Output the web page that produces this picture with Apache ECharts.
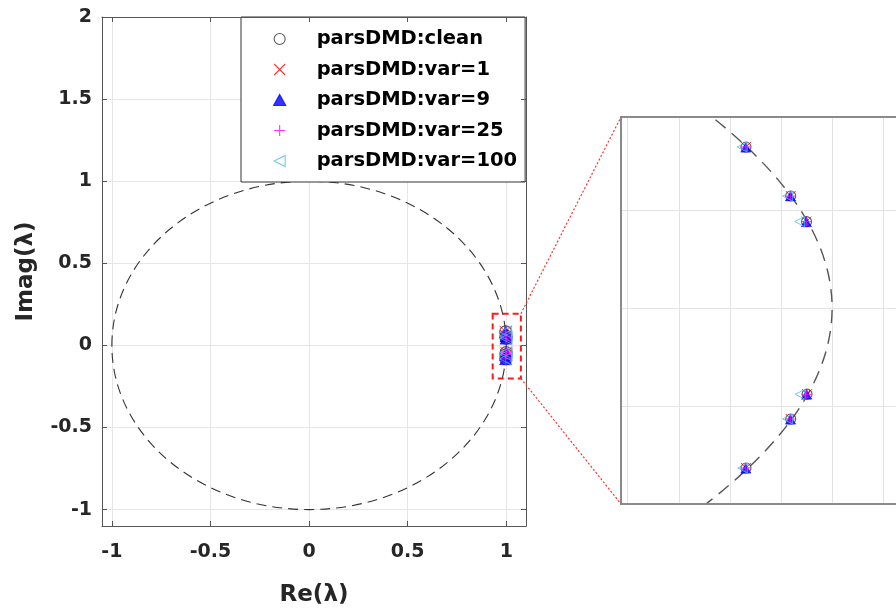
<!DOCTYPE html>
<html>
<head>
<meta charset="utf-8">
<script src="https://cdn.jsdelivr.net/npm/echarts@6/dist/echarts.min.js"></script>
<style>html,body{margin:0;padding:0;background:#fff;}#c{width:896px;height:609px;}</style>
</head>
<body>
<div id="c"></div>
<script>
// ---- data ----
const seriesNames = ['parsDMD:clean', 'parsDMD:var=1', 'parsDMD:var=9', 'parsDMD:var=25', 'parsDMD:var=100'];
const eigClean  = [[0.99663, 0.0823], [0.99838, 0.0573], [0.99900, 0.0442], [0.99902, -0.0439], [0.99838, -0.0566], [0.99663, -0.0816]];
const eigVar1   = [[0.99663, 0.0823], [0.99838, 0.0573], [0.99900, 0.0442], [0.99902, -0.0439], [0.99838, -0.0566], [0.99663, -0.0816]];
const eigVar9   = [[0.99662, 0.0822], [0.99837, 0.0573], [0.99899, 0.0441], [0.99900, -0.0440], [0.99837, -0.0567], [0.99662, -0.0817]];
const eigVar25  = [[0.99662, 0.0823], [0.99838, 0.0572], [0.99899, 0.0442], [0.99901, -0.0440], [0.99838, -0.0566], [0.99662, -0.0816]];
const eigVar100 = [[0.99648, 0.0823], [0.99826, 0.0572], [0.99873, 0.0442], [0.99875, -0.0440], [0.99826, -0.0566], [0.99650, -0.0816]];
const xTicksMain = [-1, -0.5, 0, 0.5, 1];
const yTicksMain = [-1, -0.5, 0, 0.5, 1, 1.5, 2];
const xRangeMain = [-1.05, 1.1];
const yRangeMain = [-1.1, 2];
const xGridInset = [0.992, 0.994, 0.996, 0.998, 1.0, 1.002];
const yGridInset = [-0.05, 0, 0.05];
const xRangeInset = [0.99174, 1.0025];
const yRangeInset = [-0.1, 0.0976];
const unitCircle = [0, 0, 1];            // centre x, centre y, radius
const zoomBox = [0.931, -0.201, 1.074, 0.193]; // x0, y0, x1, y1

// ---- styles ----
const FONT = "'DejaVu Sans', sans-serif";
const AX = '#555';
const INSET_AX = '#8a8a8a';
const styles = [
  {symbol: 'circle', itemStyle: {color: 'rgba(0,0,0,0)', borderColor: '#333', borderWidth: 1.1}},
  {symbol: 'path://M0,0L10,10M10,0L0,10', itemStyle: {color: 'rgba(0,0,0,0)', borderColor: '#ff0000', borderWidth: 1}},
  {symbol: 'path://M5,0L10,9L0,9Z', itemStyle: {color: '#0000ff', borderColor: '#0000ff', borderWidth: 0.5}},
  {symbol: 'path://M5,0L5,10M0,5L10,5', itemStyle: {color: 'rgba(0,0,0,0)', borderColor: '#ff00ff', borderWidth: 1}},
  {symbol: 'path://M0,5L10,0L10,10Z', itemStyle: {color: 'rgba(0,0,0,0)', borderColor: '#4DBEEE', borderWidth: 1}}
];
const allData = [eigClean, eigVar1, eigVar9, eigVar25, eigVar100];

const chart = echarts.init(document.getElementById('c'), null, {renderer: 'canvas'});

function circleItem(color, width, dash) {
  return function (params, api) {
    const c = api.coord([api.value(0), api.value(1)]);
    const s = api.size([api.value(2), api.value(2)]);
    return {type: 'ellipse', shape: {cx: c[0], cy: c[1], rx: s[0], ry: s[1]},
      style: {fill: 'none', stroke: color, lineWidth: width, lineDash: dash}};
  };
}

const series = [];
// grid lines (main)
series.push({type: 'scatter', xAxisIndex: 0, yAxisIndex: 0, data: [], silent: true,
  markLine: {silent: true, symbol: 'none', z: 1, precision: 6, label: {show: false}, animation: false,
    lineStyle: {color: '#e6e6e6', type: 'solid', width: 1},
    data: xTicksMain.map(v => ({xAxis: v})).concat(yTicksMain.map(v => ({yAxis: v})))}});
// grid lines (inset)
series.push({type: 'scatter', xAxisIndex: 2, yAxisIndex: 2, data: [], silent: true,
  markLine: {silent: true, symbol: 'none', z: 1, precision: 6, label: {show: false}, animation: false,
    lineStyle: {color: '#e3e3e3', type: 'solid', width: 1},
    data: xGridInset.map(v => ({xAxis: v})).concat(yGridInset.map(v => ({yAxis: v})))}});
// unit circle
series.push({type: 'custom', xAxisIndex: 0, yAxisIndex: 0, clip: true, silent: true, z: 2,
  renderItem: circleItem('#333', 1.1, [10, 6]), data: [unitCircle]});
series.push({type: 'custom', xAxisIndex: 2, yAxisIndex: 2, clip: true, silent: true, z: 2,
  renderItem: circleItem('#555', 1.4, [13, 8]), data: [unitCircle]});
// zoom rectangle
series.push({type: 'custom', xAxisIndex: 0, yAxisIndex: 0, clip: false, silent: true, z: 4,
  renderItem: function (params, api) {
    const p1 = api.coord([api.value(0), api.value(3)]);
    const p2 = api.coord([api.value(2), api.value(1)]);
    return {type: 'rect', shape: {x: p1[0], y: p1[1], width: p2[0] - p1[0], height: p2[1] - p1[1]},
      style: {fill: 'none', stroke: '#ff1a1a', lineWidth: 2, lineDash: [6, 4]}};
  }, data: [zoomBox]});
// eigenvalue markers
seriesNames.forEach((name, i) => {
  series.push(Object.assign({type: 'scatter', name: name, xAxisIndex: 0, yAxisIndex: 0,
    symbolSize: 12, data: allData[i], z: 3, animation: false}, styles[i]));
  series.push(Object.assign({type: 'scatter', name: name, xAxisIndex: 2, yAxisIndex: 2,
    symbolSize: 10, data: allData[i], z: 3, animation: false}, styles[i]));
});

const tickLabel = {fontFamily: FONT, fontWeight: 'bold', fontSize: 19, color: '#262626'};
const nameStyle = {fontFamily: FONT, fontWeight: 'bold', fontSize: 23, color: '#262626'};
const insetLine = {show: true, onZero: false, lineStyle: {color: INSET_AX, width: 2}};

const option = {
  animation: false,
  backgroundColor: '#fff',
  grid: [
    {left: 102, top: 17, width: 424, height: 509, containLabel: false, outerBoundsMode: 'none'},
    {left: 621, top: 117, width: 275, height: 387, outerBoundsMode: 'none'}
  ],
  legend: {
    data: seriesNames, orient: 'vertical', left: 241, top: 17, selectedMode: false,
    backgroundColor: '#fff', borderColor: '#333', borderWidth: 1,
    padding: [12, 8, 11, 32], itemWidth: 64, itemHeight: 11, itemGap: 10.5,
    itemStyle: {borderWidth: 1.1},
    textStyle: {fontFamily: FONT, fontWeight: 'bold', fontSize: 19.5, color: '#000', lineHeight: 20}
  },
  xAxis: [
    {gridIndex: 0, type: 'value', min: xRangeMain[0], max: xRangeMain[1], position: 'bottom', z: 5,
      axisLine: {show: true, onZero: false, lineStyle: {color: AX, width: 1}},
      axisTick: {show: true, inside: true, length: 5, customValues: xTicksMain, lineStyle: {color: AX}},
      axisLabel: Object.assign({customValues: xTicksMain, margin: 17}, tickLabel),
      splitLine: {show: false},
      name: 'Re(λ)', nameLocation: 'middle', nameGap: 58, nameTextStyle: nameStyle},
    {gridIndex: 0, type: 'value', min: xRangeMain[0], max: xRangeMain[1], position: 'top', z: 5,
      axisLine: {show: true, onZero: false, lineStyle: {color: AX, width: 1}},
      axisTick: {show: true, inside: true, length: 5, customValues: xTicksMain, lineStyle: {color: AX}},
      axisLabel: {show: false}, splitLine: {show: false}},
    {gridIndex: 1, type: 'value', min: xRangeInset[0], max: xRangeInset[1], position: 'bottom', z: 5,
      axisLine: insetLine, axisTick: {show: false}, axisLabel: {show: false}, splitLine: {show: false}},
    {gridIndex: 1, type: 'value', min: xRangeInset[0], max: xRangeInset[1], position: 'top', z: 5,
      axisLine: insetLine, axisTick: {show: false}, axisLabel: {show: false}, splitLine: {show: false}}
  ],
  yAxis: [
    {gridIndex: 0, type: 'value', min: yRangeMain[0], max: yRangeMain[1], position: 'left', z: 5,
      axisLine: {show: true, onZero: false, lineStyle: {color: AX, width: 1}},
      axisTick: {show: true, inside: true, length: 5, customValues: yTicksMain, lineStyle: {color: AX}},
      axisLabel: Object.assign({customValues: yTicksMain, margin: 10}, tickLabel),
      splitLine: {show: false},
      name: 'Imag(λ)', nameLocation: 'middle', nameGap: 64, nameTextStyle: nameStyle},
    {gridIndex: 0, type: 'value', min: yRangeMain[0], max: yRangeMain[1], position: 'right', z: 5,
      axisLine: {show: true, onZero: false, lineStyle: {color: AX, width: 1}},
      axisTick: {show: true, inside: true, length: 5, customValues: yTicksMain, lineStyle: {color: AX}},
      axisLabel: {show: false}, splitLine: {show: false}},
    {gridIndex: 1, type: 'value', min: yRangeInset[0], max: yRangeInset[1], position: 'left', z: 5,
      axisLine: insetLine, axisTick: {show: false}, axisLabel: {show: false}, splitLine: {show: false}}
  ],
  series: series
};
chart.setOption(option);

// connector lines from zoom box to inset corners
const a = chart.convertToPixel({xAxisIndex: 0, yAxisIndex: 0}, [zoomBox[2], zoomBox[3]]);
const b = chart.convertToPixel({xAxisIndex: 0, yAxisIndex: 0}, [zoomBox[2], zoomBox[1]]);
const c = chart.convertToPixel({xAxisIndex: 2, yAxisIndex: 2}, [xRangeInset[0], yRangeInset[1]]);
const d = chart.convertToPixel({xAxisIndex: 2, yAxisIndex: 2}, [xRangeInset[0], yRangeInset[0]]);
const conn = {stroke: '#ff3030', lineWidth: 1.2, lineDash: [2, 2]};
chart.setOption({graphic: [
  {type: 'line', silent: true, z: 10, shape: {x1: a[0], y1: a[1], x2: c[0], y2: c[1]}, style: conn},
  {type: 'line', silent: true, z: 10, shape: {x1: b[0], y1: b[1], x2: d[0], y2: d[1]}, style: conn}
]});
</script>
</body>
</html>
